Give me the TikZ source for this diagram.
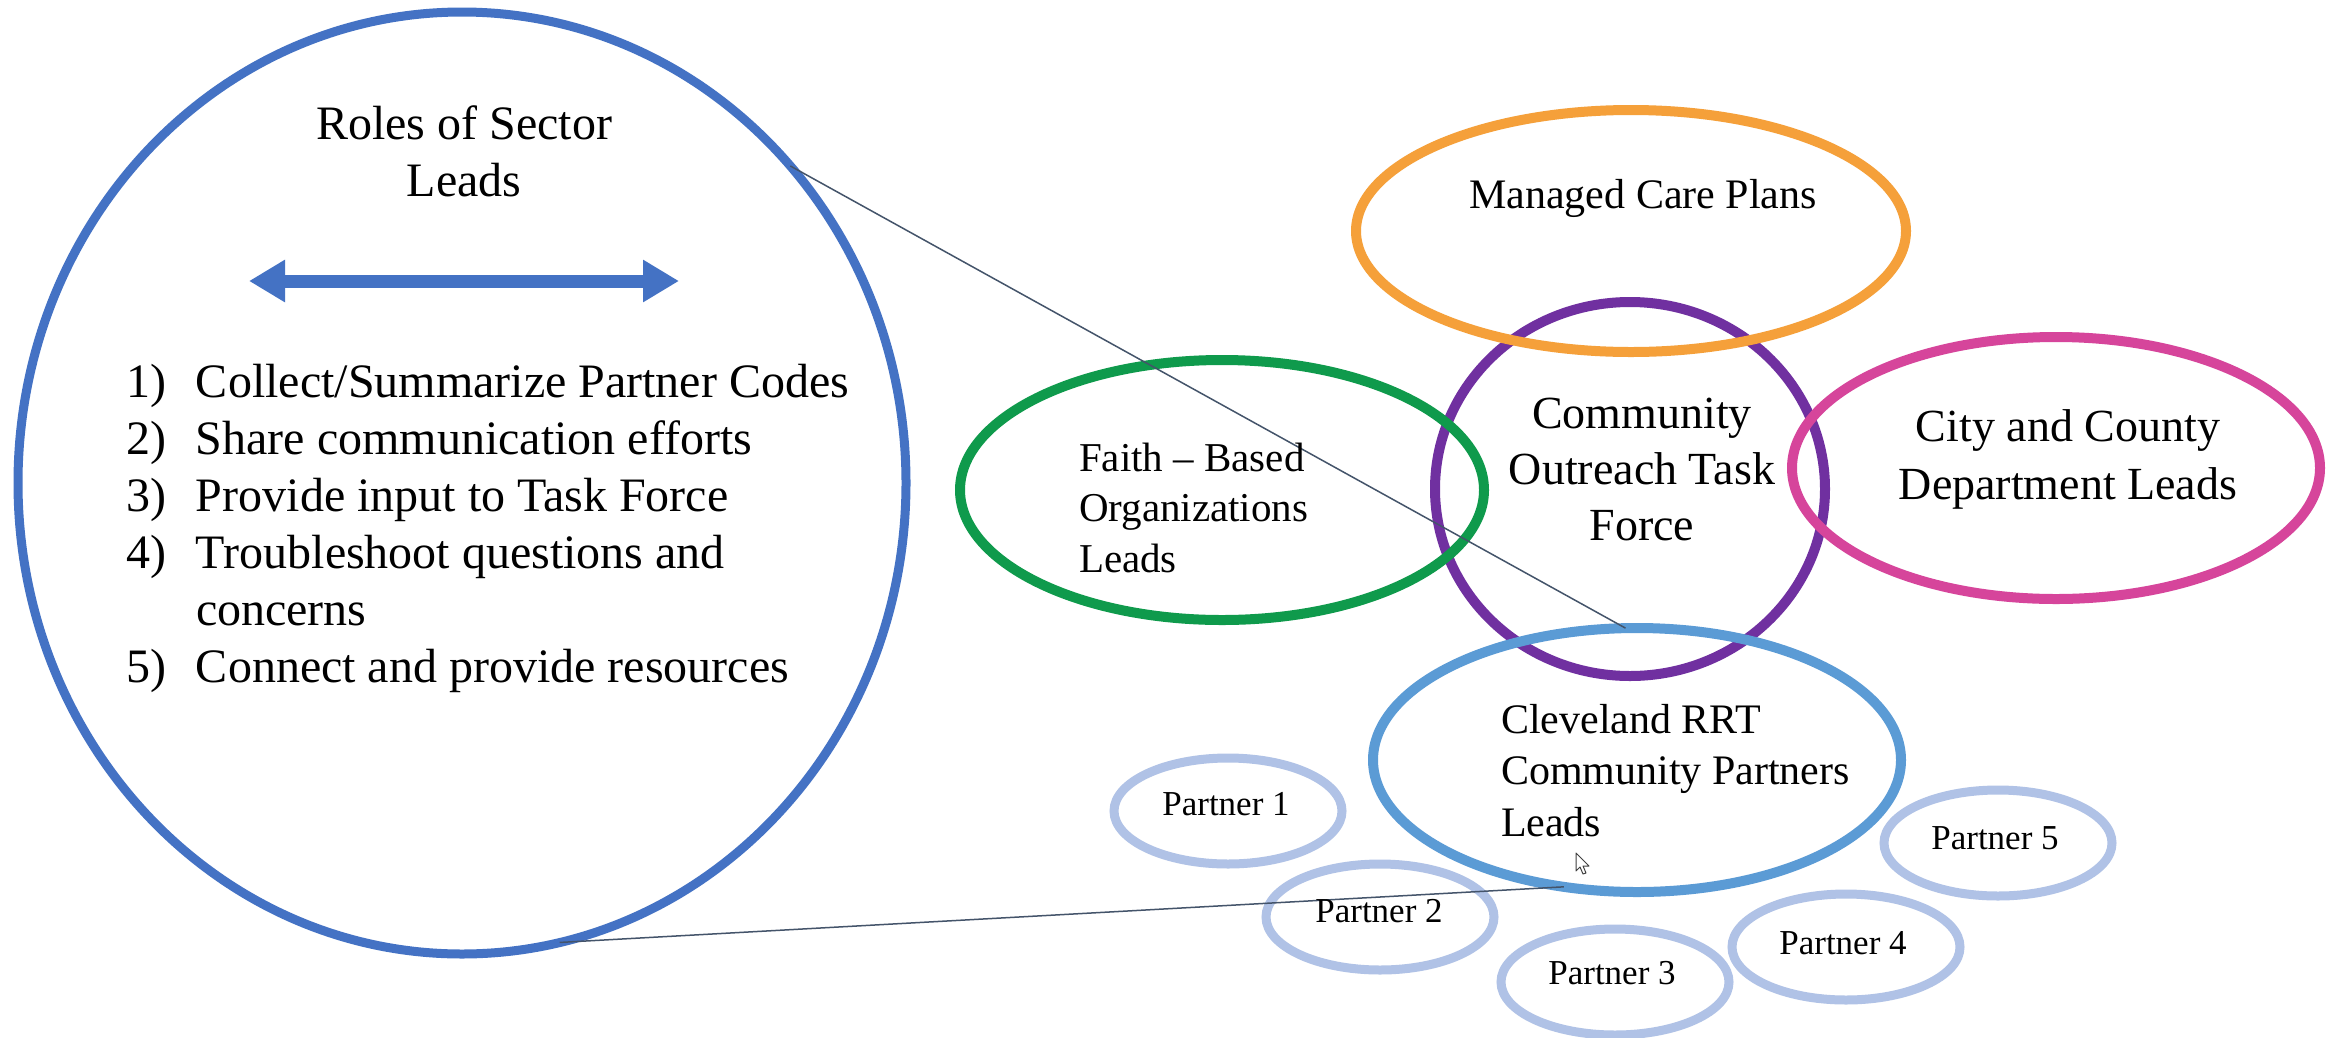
\documentclass[tikz,border=0pt]{standalone}
\usepackage{fontspec}
\setmainfont{Liberation Serif}
\usetikzlibrary{arrows.meta,shapes.geometric}
\definecolor{secblue}{HTML}{4472C4}
\definecolor{mcorange}{HTML}{F5A03A}
\definecolor{tfpurple}{HTML}{7030A0}
\definecolor{fbgreen}{HTML}{0F9A4C}
\definecolor{ccpink}{HTML}{D6459B}
\definecolor{rrtblue}{HTML}{5B9BD5}
\definecolor{ptblue}{HTML}{B0C2E6}
\definecolor{zoomline}{HTML}{44546A}
\newcommand{\setfs}[2]{\fontsize{#1pt}{#2pt}\selectfont}
\begin{document}
\begin{tikzpicture}[x=1pt,y=-1pt,
  ring/.style={ellipse, draw, inner sep=0pt, outer sep=0pt, line width=10pt},
  lbl/.style={inner sep=0pt, outer sep=0pt, text=black},
  zoom/.style={draw=zoomline, line width=1.5pt},
  ptring/.style={ring, draw=ptblue, line width=9pt, minimum width=228pt, minimum height=106pt},
  ptlbl/.style={lbl, anchor=base, font=\setfs{35}{42}}
]
\fill[white] (0,0) rectangle (2332,1037);
\useasboundingbox (0,0) rectangle (2332,1037);

% main sector circle
\node[ring, draw=secblue, line width=9pt, minimum width=888pt, minimum height=942pt] (sector) at (462,483) {};
\node[lbl, anchor=base, align=center, font=\setfs{48}{57}] (title) at (464,139) {\begin{tabular}[t]{@{}c@{}}Roles of Sector\\Leads\end{tabular}};
\coordinate (arL) at (249,281);
\coordinate (arR) at (679,281);
\draw[secblue, line width=13pt, {Triangle[length=36pt,width=40pt]}-{Triangle[length=36pt,width=40pt]}] (arL) -- (arR);
\node[lbl, anchor=base west, font=\setfs{48}{57}] (roles) at (126,397) {\begin{tabular}[t]{@{}p{70pt}@{}l@{}}
1) & Collect/Summarize Partner Codes\\
2) & Share communication efforts\\
3) & Provide input to Task Force\\
4) & Troubleshoot questions and\\
   & concerns\\
5) & Connect and provide resources
\end{tabular}};

% right cluster
\node[ring, draw=tfpurple, minimum width=390pt, minimum height=374pt] (task) at (1630,489) {};
\node[ring, draw=fbgreen, minimum width=524pt, minimum height=260pt] (faith) at (1222,490) {};
\node[ring, draw=mcorange, minimum width=550pt, minimum height=242pt] (mcp) at (1631,231) {};
\node[ring, draw=ccpink, minimum width=528pt, minimum height=262pt] (city) at (2056,468) {};
\node[ring, draw=rrtblue, minimum width=528pt, minimum height=264pt] (rrt) at (1637,760) {};

\node[ptring] (p1) at (1228,811) {};
\node[ptring] (p2) at (1380,917) {};
\node[ptring] (p3) at (1615,982) {};
\node[ptring] (p4) at (1846,947) {};
\node[ptring] (p5) at (1998,843) {};

% zoom lines
\draw[zoom] (sector.44) -- (rrt.95);
\draw[zoom] (sector.-78) -- (rrt.240);

% labels
\node[lbl, anchor=base, font=\setfs{42}{50}] (mcpl) at (1643,208) {Managed Care Plans};
\node[lbl, anchor=base, font=\setfs{46}{56}] (taskl) at (1642,428) {\begin{tabular}[t]{@{}c@{}}Community\\Outreach Task\\Force\end{tabular}};
\node[lbl, anchor=base west, font=\setfs{41}{50.5}] (faithl) at (1079,471) {\begin{tabular}[t]{@{}l@{}}Faith -- Based\\Organizations\\Leads\end{tabular}};
\node[lbl, anchor=base, font=\setfs{46}{58}] (cityl) at (2068,441) {\begin{tabular}[t]{@{}c@{}}City and County\\Department Leads\end{tabular}};
\node[lbl, anchor=base west, font=\setfs{42}{51.5}] (rrtl) at (1501,733) {\begin{tabular}[t]{@{}l@{}}Cleveland RRT\\Community Partners\\Leads\end{tabular}};

\node[ptlbl] (p1l) at (1226,815) {Partner 1};
\node[ptlbl] (p2l) at (1379,922) {Partner 2};
\node[ptlbl] (p3l) at (1612,984) {Partner 3};
\node[ptlbl] (p4l) at (1843,954) {Partner 4};
\node[ptlbl] (p5l) at (1995,849) {Partner 5};

% mouse cursor
\draw[black!75, fill=white, line width=1pt, line join=round] (1576,853) -- ++(0,18) -- ++(4,-4) -- ++(3,7) -- ++(3,-1) -- ++(-3,-7) -- ++(6,0) -- cycle;
\end{tikzpicture}
\end{document}
